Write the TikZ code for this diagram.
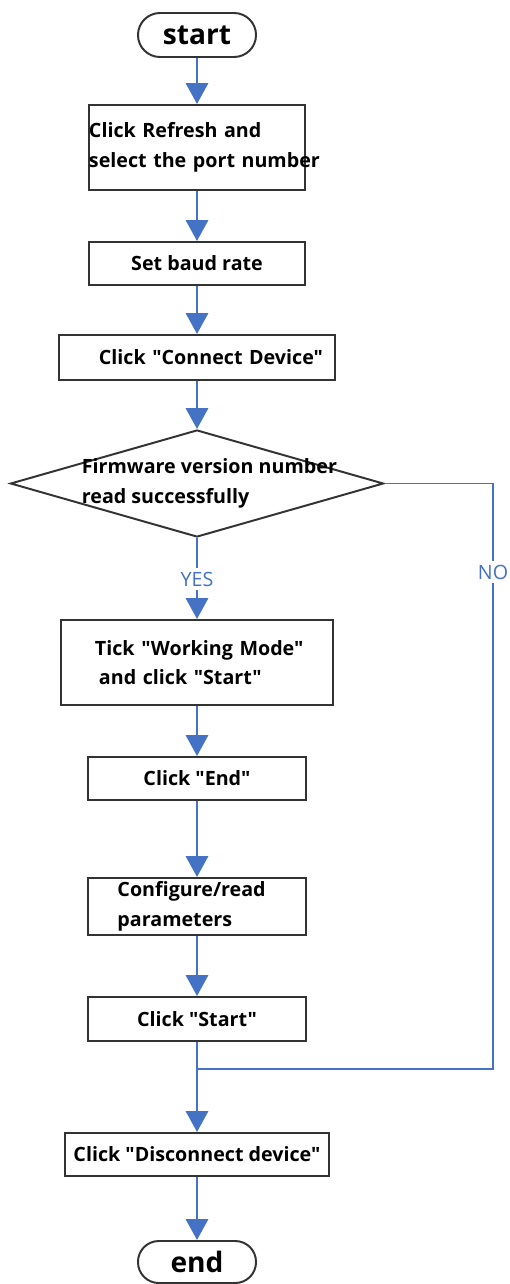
\documentclass[tikz,border=0pt]{standalone}
\usepackage{fontspec}
\newfontfamily\flowfont{Open Sans}
\usetikzlibrary{arrows.meta,shapes.geometric}

\definecolor{flowblue}{RGB}{68,114,196}
\definecolor{boxgray}{RGB}{51,51,51}

\tikzset{
  terminal/.style={draw=boxgray, line width=1.4pt, rectangle, rounded corners=0.55cm,
    minimum width=2.95cm, minimum height=1.1cm, inner sep=0pt,
    font=\flowfont\fontsize{20}{24}\selectfont\bfseries},
  stepbox/.style={draw=boxgray, line width=1.4pt, rectangle, minimum height=1.075cm,
    inner sep=0pt, font=\flowfont\fontsize{14}{21}\selectfont\bfseries},
  decision/.style={draw=boxgray, line width=1.4pt, diamond, minimum width=9.325cm,
    minimum height=2.675cm, inner sep=0pt},
  flow/.style={draw=flowblue, line width=2pt, -{Triangle[width=0.55cm,length=0.52cm]}},
  branch/.style={draw=flowblue, line width=1.3pt},
  answer/.style={fill=white, text=flowblue, inner xsep=1pt, inner ysep=0.1cm,
    font=\flowfont\fontsize{14}{17}\selectfont}
}

\begin{document}
\begin{tikzpicture}[x=0.025cm, y=-0.025cm]
  \useasboundingbox (0,0) rectangle (510,1284);

  % Start
  \node[terminal] (start) at (197,35) {start};

  % Port and baud rate
  \node[stepbox, minimum width=5.4cm, minimum height=2.125cm, text width=5.4cm, align=left] (refresh) at (197,147.5) {\mbox{Click Refresh and}\\\mbox{select the port number}};
  \node[stepbox, minimum width=5.4cm] (baud) at (197,263.5) {Set baud rate};
  \node[stepbox, minimum width=6.9cm, minimum height=1.125cm, text width=6.3cm, inner xsep=0.3cm, align=right] (connect) at (197,357.5) {Click "Connect Device"};
  \draw[flow] (start) -- (refresh);
  \draw[flow] (refresh) -- (baud);
  \draw[flow] (baud) -- (connect);

  % Firmware check
  \node[decision, label={[align=left, xshift=0.31cm, font=\flowfont\fontsize{14}{21}\selectfont\bfseries]center:{Firmware version number\\read successfully}}] (check) at (197,483.5) {};
  \draw[flow] (connect) -- (check);

  % YES branch
  \node[stepbox, minimum width=6.8cm, minimum height=2.125cm, text width=5.1cm, inner xsep=0.85cm, align=left] (working) at (197,662.5) {\mbox{Tick "Working Mode"}\\\mbox{\hspace{0.1cm}and click "Start"}};
  \node[stepbox, minimum width=5.425cm] (finish) at (197,778.5) {Click "End"};
  \node[stepbox, minimum width=5.425cm, minimum height=1.425cm, text width=3.975cm, inner xsep=0.725cm, align=left] (params) at (197,906.5) {Configure/read\\parameters};
  \node[stepbox, minimum width=5.425cm, minimum height=1.1cm] (restart) at (197,1019) {Click "Start"};
  \draw[flow] (check.south) -- (working);
  \node[answer] (yes) at (197,579) {YES};
  \draw[flow] (working) -- (finish);
  \draw[flow] (finish) -- (params);
  \draw[flow] (params) -- (restart);

  % NO branch
  \coordinate (noturn) at (493,1069);
  \coordinate (merge) at (197,1069);
  \draw[branch] (check.east) -| (noturn) -- (merge);
  \node[answer] (no) at (493,572) {NO};

  % Disconnect and end
  \node[stepbox, minimum width=6.6cm] (disconnect) at (197,1154.5) {Click "Disconnect device"};
  \node[terminal, minimum height=1.05cm, rounded corners=0.52cm] (end) at (197,1262) {end};
  \draw[flow] (restart) -- (disconnect);
  \draw[flow] (disconnect) -- (end);
\end{tikzpicture}
\end{document}
